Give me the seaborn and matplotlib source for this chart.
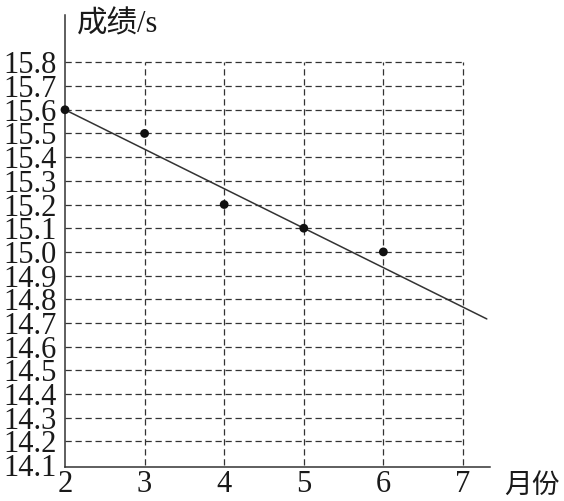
import numpy as np
import pandas as pd
import matplotlib
matplotlib.use("Agg")
import matplotlib.pyplot as plt
import seaborn as sns

# ===============================
# DATA
# ===============================
months = [2, 3, 4, 5, 6]
scores = [15.6, 15.5, 15.2, 15.1, 15.0]

# fitted trend line
line_x = [2, 7.3]
line_y = [15.6, 14.717]

x_ticks = [2, 3, 4, 5, 6, 7]
y_ticks = [14.1, 14.2, 14.3, 14.4, 14.5, 14.6, 14.7, 14.8, 14.9, 15.0,
           15.1, 15.2, 15.3, 15.4, 15.5, 15.6, 15.7, 15.8]

df = pd.DataFrame({"month": months, "score": scores})
df_line = pd.DataFrame({"x": line_x, "y": line_y})

# ===============================
# PLOT
# ===============================
sns.set_style("white")
plt.rcParams['font.family'] = ['Liberation Serif', 'Noto Sans CJK SC', 'DejaVu Sans']

fig = plt.figure(figsize=(5.64, 5.01), dpi=100)
ax = fig.add_axes([65 / 564, 1 - 467 / 501, (490 - 65) / 564, (467 - 15) / 501])

ax.set_xlim(2, 7.34)
ax.set_ylim(14.092, 16.0)

ink = "#333333"

# dashed grid
ax.hlines(y_ticks[1:], x_ticks[0], x_ticks[-1], colors=ink, linestyles=(0, (5, 3)), linewidth=0.9)
ax.vlines(x_ticks[1:], y_ticks[0], y_ticks[-1], colors=ink, linestyles=(0, (5, 3)), linewidth=0.9)

sns.lineplot(data=df_line, x="x", y="y", color=ink, linewidth=1.1, ax=ax)
sns.scatterplot(data=df, x="month", y="score", color="#111111", s=40, edgecolor="none",
                zorder=5, clip_on=False, ax=ax)

for side in ["top", "right"]:
    ax.spines[side].set_visible(False)
for side in ["left", "bottom"]:
    ax.spines[side].set_color(ink)
    ax.spines[side].set_linewidth(1.1)

ax.set_xticks(x_ticks)
ax.set_xticklabels([str(v) for v in x_ticks])
ax.set_yticks(y_ticks)
ax.set_yticklabels([f"{v:.1f}" for v in y_ticks])
ax.tick_params(axis="both", length=0, labelsize=22, colors="#1a1a1a")
ax.tick_params(axis="x", pad=2)
ax.tick_params(axis="y", pad=6)

ax.set_xlabel("")
ax.set_ylabel("")
fig.text(77 / 564, 1 - 25 / 501, "成绩/s", fontsize=22, va="center", ha="left", color="#1a1a1a")
fig.text(504 / 564, 1 - 486 / 501, "月份", fontsize=20, va="center", ha="left", color="#1a1a1a")

fig.savefig("out.png", dpi=100)
